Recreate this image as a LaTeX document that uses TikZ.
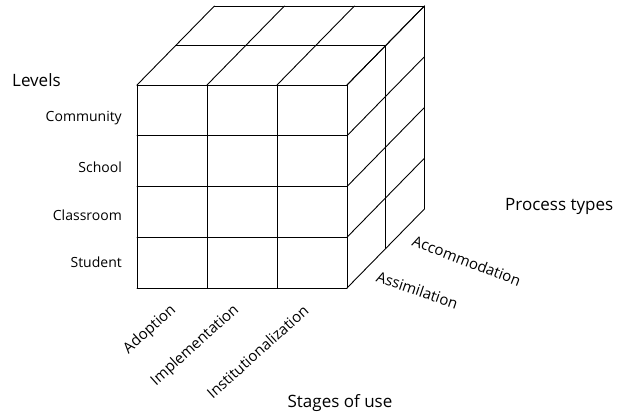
\documentclass[tikz,border=0pt]{standalone}
\usepackage{fontspec}
\setmainfont{Open Sans}
\begin{document}
\begin{tikzpicture}[x={(70pt,0pt)}, y={(0pt,50.75pt)}, z={(38.7pt,39.5pt)}, line cap=round, line join=round,
    cube/.style={line width=0.9pt},
    lab/.style={font=\fontsize{14}{16}\selectfont, inner sep=0pt},
    slant/.style={font=\fontsize{15}{17}\selectfont, inner sep=0pt},
    head/.style={font=\fontsize{17}{20}\selectfont, inner sep=0pt}]
    \useasboundingbox (-137pt,-129pt) rectangle (482pt,288pt);
    % front face
    \foreach \i in {0,...,3} \draw[cube] (\i,0,0) -- (\i,4,0);
    \foreach \j in {0,...,4} \draw[cube] (0,\j,0) -- (3,\j,0);
    % top face
    \foreach \i in {0,...,3} \draw[cube] (\i,4,0) -- (\i,4,2);
    \foreach \k in {1,2} \draw[cube] (0,4,\k) -- (3,4,\k);
    % right face
    \foreach \j in {0,...,4} \draw[cube] (3,\j,0) -- (3,\j,2);
    \foreach \k in {1,2} \draw[cube] (3,0,\k) -- (3,4,\k);
    % levels
    \node[head, anchor=west] (levels) at (-125pt,208pt) {Levels};
    \node[lab, anchor=east] (community) at (-15pt,170pt) {Community};
    \node[lab, anchor=east] (school) at (-15pt,121pt) {School};
    \node[lab, anchor=east] (classroom) at (-15pt,73pt) {Classroom};
    \node[lab, anchor=east] (student) at (-15pt,26pt) {Student};
    % stages of use
    \node[slant, anchor=east, rotate=42] (adoption) at (37pt,-20pt) {Adoption};
    \node[slant, anchor=east, rotate=42] (implementation) at (100pt,-20pt) {Implementation};
    \node[slant, anchor=east, rotate=42] (institutionalization) at (169pt,-20pt) {Institutionalization};
    \node[head] (stages) at (203pt,-115pt) {Stages of use};
    % process types
    \node[slant, anchor=west, rotate=-21] (accommodation) at (276pt,48pt) {Accommodation};
    \node[slant, anchor=west, rotate=-19] (assimilation) at (240pt,12pt) {Assimilation};
    \node[head, anchor=west] (process) at (368pt,82pt) {Process types};
\end{tikzpicture}
\end{document}
